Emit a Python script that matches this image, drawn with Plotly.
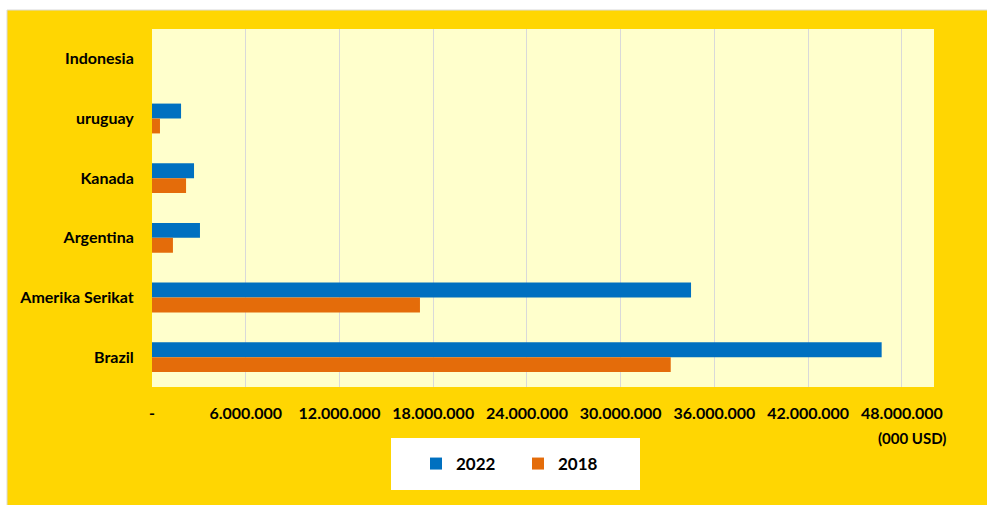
import plotly.graph_objects as go

categories = ["Indonesia", "uruguay", "Kanada", "Argentina", "Amerika Serikat", "Brazil"]
values_2022 = [0, 1860000, 2690000, 3070000, 34500000, 46700000]
values_2018 = [0, 510000, 2180000, 1340000, 17150000, 33200000]
tick_vals = [0, 6000000, 12000000, 18000000, 24000000, 30000000, 36000000, 42000000, 48000000]
tick_text = ["-", "6.000.000", "12.000.000", "18.000.000", "24.000.000",
             "30.000.000", "36.000.000", "42.000.000", "48.000.000"]

W, H = 987, 505
L, R, T, B = 152, 53, 29, 118
pw, ph = W - L - R, H - T - B

def px(x):
    return (x - L) / pw

def py(y):
    return (H - B - y) / ph

FONT = "Lato"
fig = go.Figure()
fig.add_trace(go.Bar(y=categories, x=values_2022, name="2022", orientation="h",
                     marker=dict(color="#0070C0", line=dict(width=0))))
fig.add_trace(go.Bar(y=categories, x=values_2018, name="2018", orientation="h",
                     marker=dict(color="#E46C0A", line=dict(width=0))))

fig.update_layout(
    width=W, height=H,
    margin=dict(l=L, r=R, t=T, b=B),
    paper_bgcolor="white",
    plot_bgcolor="#FFFFCC",
    barmode="group",
    bargap=0.5,
    bargroupgap=0,
    font=dict(family=FONT, size=16, color="black"),
    xaxis=dict(range=[0, 50050000], tickvals=tick_vals, ticktext=tick_text,
               showgrid=True, gridcolor="#D9D9D9", gridwidth=1, zeroline=False,
               ticks="outside", ticklen=12, tickcolor="rgba(0,0,0,0)",
               tickfont=dict(family=FONT, size=16, color="black", weight="bold"),
               fixedrange=True),
    yaxis=dict(autorange="reversed", showgrid=False, zeroline=False,
               ticks="outside", ticklen=14, tickcolor="rgba(0,0,0,0)",
               tickfont=dict(family=FONT, size=16, color="black", weight="bold")),
    showlegend=True,
    legend=dict(orientation="h", x=px(416), y=py(464), xanchor="left", yanchor="middle",
                bgcolor="rgba(0,0,0,0)", entrywidth=57, entrywidthmode="pixels",
                font=dict(family=FONT, size=17, color="black", weight="bold")),
    shapes=[
        dict(type="rect", xref="paper", yref="paper", layer="below",
             x0=px(7), x1=px(990), y0=py(508), y1=py(10),
             fillcolor="#FFD602", line=dict(color="#D9D9D9", width=1)),
        dict(type="rect", xref="paper", yref="paper", layer="below",
             x0=0, x1=1, y0=0, y1=1,
             fillcolor="#FFFFCC", line=dict(width=0)),
        dict(type="rect", xref="paper", yref="paper", layer="below",
             x0=px(391), x1=px(640), y0=py(490), y1=py(438),
             fillcolor="white", line=dict(width=0)),
    ],
    annotations=[
        dict(text="(000 USD)", xref="paper", yref="paper", x=px(912), y=py(438),
             xanchor="center", yanchor="middle", showarrow=False,
             font=dict(family=FONT, size=15, color="black", weight="bold")),
    ],
)

fig.write_html("out.html")
